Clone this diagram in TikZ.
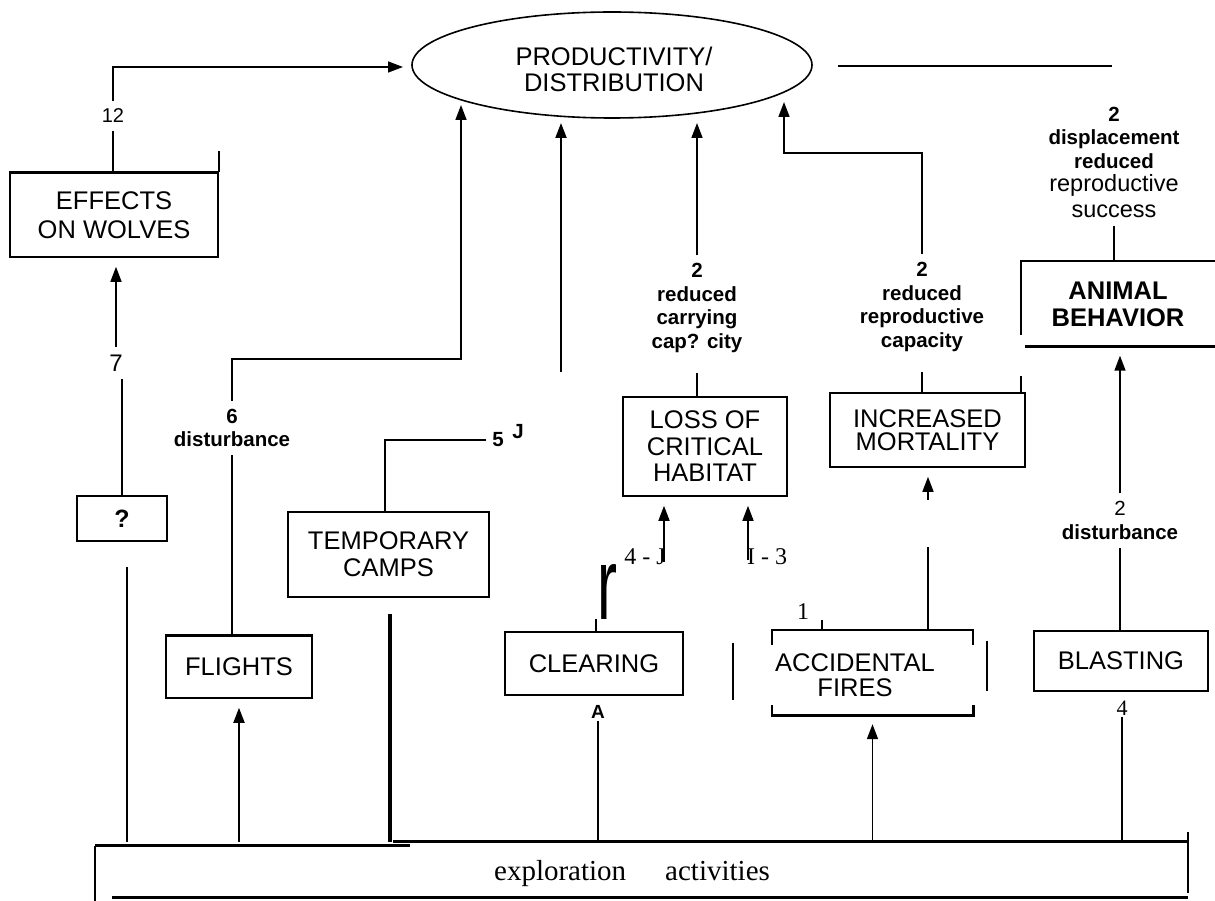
\documentclass[tikz,border=0pt]{standalone}
\usepackage{fontspec}
\usepackage{graphicx}
\setmainfont{Liberation Serif}
\setsansfont{Liberation Sans}
\usetikzlibrary{shapes.geometric,arrows.meta,calc}

\begin{document}
\begin{tikzpicture}[x=1pt,y=-1pt,
  ln/.style={line width=1.6pt},
  heavy/.style={line width=3pt},
  arr/.style={line width=1.6pt,-{Triangle[width=11pt,length=15pt]}},
  arrb/.style={arr,shorten >=9pt},
  box/.style={draw,line width=1.6pt,inner sep=0pt,align=center,
    font=\sffamily\fontsize{25.5}{26.5}\selectfont},
  ell/.style={draw,ellipse,line width=1.6pt,inner sep=0pt,
    minimum width=400pt,minimum height=106pt},
  tag/.style={inner sep=8pt,align=center,
    font=\sffamily\bfseries\fontsize{20.5}{23.5}\selectfont},
  num/.style={inner sep=8pt,font=\sffamily\fontsize{20}{22}\selectfont},
  serifnum/.style={inner sep=2pt,font=\rmfamily\fontsize{24}{26}\selectfont},
]
\useasboundingbox (0,0) rectangle (1215,901);

% ---------- boxes ----------
\node[ell] (prod) at (612,65) {};
\node[inner sep=0pt,align=center,font=\sffamily\fontsize{25.5}{26}\selectfont]
  (prodtext) at (614,69) {PRODUCTIVITY/\\DISTRIBUTION};
\node[box,minimum width=208pt,minimum height=84pt,
  font=\sffamily\fontsize{25.5}{29}\selectfont] (effects) at (114,215) {EFFECTS\\ON WOLVES};
\node[box,minimum width=90pt,minimum height=45pt,
  font=\sffamily\bfseries\fontsize{25}{26}\selectfont] (q) at (122,518.5) {?};
\node[box,minimum width=201pt,minimum height=85pt,
  font=\sffamily\fontsize{25.5}{27}\selectfont] (temp) at (388.5,554.5) {TEMPORARY\\CAMPS};
\node[box,minimum width=146pt,minimum height=62pt] (flights) at (239,667) {FLIGHTS};
\node[box,minimum width=164pt,minimum height=99pt] (loss) at (705,446.5) {LOSS OF\\CRITICAL\\HABITAT};
\node[box,minimum width=178pt,minimum height=63pt] (clear) at (594,663.5) {CLEARING};
\node[box,minimum width=195pt,minimum height=74pt,
  font=\sffamily\fontsize{25.5}{23.5}\selectfont] (incr) at (927.5,430) {INCREASED\\MORTALITY};
\node[box,minimum width=174pt,minimum height=60pt] (blast) at (1121,661) {BLASTING};
\node[inner sep=0pt,minimum width=201pt,minimum height=85pt] (acc) at (872.5,672.5) {};
\node[inner sep=0pt,align=center,font=\sffamily\fontsize{25.5}{25}\selectfont]
  (acctext) at (855,675.5) {ACCIDENTAL\\FIRES};
\node[inner sep=0pt,minimum width=194pt,minimum height=85pt,align=center,
  font=\sffamily\bfseries\fontsize{25.5}{27}\selectfont] (beh) at (1118,304) {ANIMAL\\BEHAVIOR};
\node[inner sep=0pt,minimum width=1093pt,minimum height=55pt] (expl) at (641.5,869.5) {};
\node[anchor=base,inner sep=0pt,font=\rmfamily\fontsize{29}{30}\selectfont]
  (expltext) at (632,880) {exploration\hspace{39pt}activities};

% partial borders and heavier edges
\draw[line width=2.4pt] (effects.north west) -- (effects.north east);
\draw[ln] (effects.north east) -- ++(0,-21);
\draw[line width=2.6pt] (flights.north west) -- (flights.north east);
\draw[ln] (beh.north east) -- (beh.north west) -- ($(beh.south west)+(0,-12)$);
\draw[heavy] ($(beh.south west)+(4,0)$) -- (beh.south east);
\draw[ln] ($(acc.north west)+(0,15)$) -- (acc.north west) -- (acc.north east) -- ($(acc.north east)+(0,15)$);
\draw[line width=2.6pt] ($(acc.south west)+(0,-10)$) -- (acc.south west) -- (acc.south east) -- ($(acc.south east)+(0,-10)$);
\draw[ln] ($(acc.west)+(-39,-30)$) -- ++(0,57);
\draw[ln] ($(acc.east)+(14,-32)$) -- ++(0,50);
\draw[ln] ($(acc.north west)+(50,0)$) -- ++(0,-10);
\draw[ln] ($(incr.north east)+(-5,0)$) -- ++(0,-16);
\draw[heavy] ($(expl.north west)+(0,4)$) -- ++(315,0);
\draw[heavy] ($(expl.north west)+(298,0)$) -- (expl.north east);
\draw[ln] ($(expl.north west)+(0,4)$) -- ($(expl.south west)+(0,4)$);
\draw[ln] ($(expl.north east)+(0,-10)$) -- ($(expl.south east)+(0,-4)$);
\draw[heavy] ($(expl.south west)+(17,0)$) -- (expl.south east);

% ---------- labels ----------
\node[num] (n12) at (113,116) {12};
\node[num,font=\sffamily\fontsize{24}{26}\selectfont] (n7) at (116,363) {7};
\node[tag] (l6) at (232,428) {6\\disturbance};
\node[tag,inner sep=6pt] (n5) at (498,440) {5};
\node[tag,inner sep=0pt] (nJ) at (518,432) {J};
\node[tag] (l3) at (697,308) {2\\reduced\\carrying\\cap? city};
\node[tag] (l4) at (922,307) {2\\reduced\\reproductive\\capacity};
\node[tag] (l5a) at (1114,137.5) {2\\displacement\\reduced};
\node[tag,font=\sffamily\fontsize{23.5}{26}\selectfont] (l5b) at (1114,196) {reproductive\\success};
\node[tag] (l7) at (1120,520.5) {{\mdseries 2}\\disturbance};
\node[serifnum] (n4J) at (645,557) {4 - J};
\node[serifnum] (nI3) at (767,557) {I - 3};
\node[serifnum] (n1) at (803,612) {1};
\node[serifnum,font=\rmfamily\fontsize{22}{24}\selectfont] (n4) at (1122,708) {4};
\node[inner sep=0pt] (nr) at (607,592) {\resizebox{20pt}{55pt}{\sffamily r}};
\node[inner sep=2pt,font=\sffamily\bfseries\fontsize{19}{20}\selectfont] (nA) at (598,712) {A};

% ---------- connector ends ----------
\coordinate (tipW) at (403,67);
\coordinate (c6) at (461,359);
\coordinate (tip1) at (461,105);
\coordinate (a2) at (561,372);
\coordinate (tip2) at (561,123);
\coordinate (tip3) at (697,123);
\coordinate (c4) at (784,153);
\coordinate (tip4) at (784,102);
\coordinate (qbot) at (127,567);
\coordinate (tb) at (390,614);
\coordinate (s4) at (664,562);
\coordinate (s13) at (748,560);
\coordinate (rb) at (596,619);
\coordinate (m1) at (928,547);
\coordinate (m2) at (928,500);
\coordinate (h1) at (838,66);
\coordinate (h2) at (1112,66);

% ---------- connectors ----------
% wolves
\draw[ln] (n12.south) -- (n12.south |- effects.north);
\draw[arr] (n12.north) |- (tipW);
\draw[ln] (q.north) -- (q.north |- n7.south);
\draw[arrb] (n7.north) -- (n7.north |- effects.south);
\draw[ln] (qbot) -- (qbot |- expl.north);

% flights
\draw[arrb,line width=2pt] (flights.south |- expl.north) -- (flights.south);
\draw[ln] (l6.south |- flights.north) -- (l6.south);
\draw[arr] (l6.north) |- (c6) -- (tip1);

% temporary camps
\draw[ln] ($(temp.north)+(-3.5,0)$) |- (n5.west);
\draw[line width=3.5pt] (tb) -- (tb |- expl.north);

% clearing / habitat
\draw[arr,line width=2pt] (a2) -- (tip2);
\draw[ln,shorten >=12pt] (loss.north -| l3) -- (l3.south);
\draw[arr] (l3.north) -- (tip3);
\draw[arrb] (s4) -- (s4 |- loss.south);
\draw[arrb] (s13) -- (s13 |- loss.south);
\draw[ln] (rb) -- (rb |- clear.north);
\draw[ln] (nA.south) -- (nA.south |- expl.north);

% fires / mortality
\draw[arrb] (acc.south |- expl.north) -- (acc.south);
\draw[ln] (acc.north -| m1) -- (m1);
\draw[arrb] (m2) -- (m2 |- incr.south);
\draw[ln,shorten >=12pt] (incr.north -| l4) -- (l4.south);
\draw[arr] (l4.north) |- (c4) -- (tip4);

% blasting / behaviour
\draw[ln] (n4.south |- expl.north) -- (n4.south);
\draw[ln] (blast.north -| l7) -- (l7.south);
\draw[arrb] (l7.north) -- (l7.north |- beh.south);
\draw[ln] (beh.north -| l5b) -- (l5b.south);

% free line right of the ellipse
\draw[line width=2.4pt] (h1) -- (h2);
\end{tikzpicture}
\end{document}
